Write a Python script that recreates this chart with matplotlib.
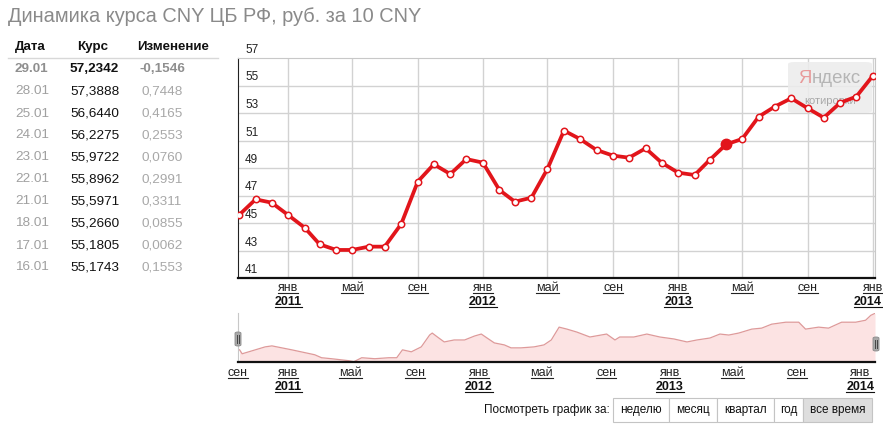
import pandas as pd
import matplotlib
matplotlib.use('Agg')
import matplotlib.pyplot as plt
import matplotlib.dates as mdates
import matplotlib.transforms as mtransforms
from matplotlib.patches import Rectangle, FancyBboxPatch
from matplotlib.lines import Line2D

plt.rcParams['font.family'] = ['Liberation Sans', 'DejaVu Sans']

W, H = 883, 430

title = 'Динамика курса CNY ЦБ РФ, руб. за 10 CNY'
table_head = ['Дата', 'Курс', 'Изменение']
table_dates = ['29.01', '28.01', '25.01', '24.01', '23.01',
               '22.01', '21.01', '18.01', '17.01', '16.01']
table_rates = ['57,2342', '57,3888', '56,6440', '56,2275', '55,9722',
               '55,8962', '55,5971', '55,2660', '55,1805', '55,1743']
table_changes = ['-0,1546', '0,7448', '0,4165', '0,2553', '0,0760',
                 '0,2991', '0,3311', '0,0855', '0,0062', '0,1553']

# monthly points, Oct 2010 .. Jan 2014
months = pd.date_range('2010-10-01', '2014-01-01', freq='MS')
monthly_rate = [45.58, 46.72, 46.48, 45.58, 44.66, 43.45, 43.04, 43.04, 43.28, 43.28,
                44.93, 48.01, 49.27, 48.56, 49.65, 49.39, 47.40, 46.55, 46.84, 48.93,
                51.72, 51.11, 50.31, 49.90, 49.75, 50.43, 49.39, 48.66, 48.49, 49.58,
                50.72, 51.11, 52.73, 53.46, 54.07, 53.34, 52.66, 53.75, 54.19, 55.71]
highlight = pd.Timestamp('2013-04-01')

# overview (navigator) trace
overview_dates = pd.to_datetime([
    '2010-09-30', '2010-10-05', '2010-11-18', '2010-12-01', '2011-01-08', '2011-02-21',
    '2011-03-06', '2011-03-25', '2011-04-27', '2011-05-07', '2011-05-22', '2011-06-16',
    '2011-07-13', '2011-07-28', '2011-08-08', '2011-08-25', '2011-09-13', '2011-09-29',
    '2011-10-04', '2011-10-14', '2011-10-27', '2011-11-15', '2011-12-05', '2011-12-24',
    '2012-01-06', '2012-01-17', '2012-01-31', '2012-02-19', '2012-03-03', '2012-03-22',
    '2012-04-16', '2012-05-05', '2012-05-19', '2012-06-03', '2012-06-18', '2012-07-07',
    '2012-08-01', '2012-09-02', '2012-09-18', '2012-09-27', '2012-10-24', '2012-11-18',
    '2012-12-13', '2013-01-09', '2013-02-03', '2013-02-22', '2013-03-19', '2013-04-07',
    '2013-04-24', '2013-05-13', '2013-06-07', '2013-06-26', '2013-07-15', '2013-08-11',
    '2013-09-05', '2013-09-18', '2013-10-13', '2013-11-01', '2013-11-26', '2013-12-23',
    '2014-01-11', '2014-01-21', '2014-01-29'])
overview_rate = [46.6, 45.4, 47.5, 47.8, 46.6, 45.1, 44.2, 43.9, 43.3, 43.0, 44.2, 43.9,
                 44.2, 44.2, 46.6, 46.0, 47.5, 51.1, 51.7, 50.5, 49.0, 49.6, 49.6, 50.8,
                 51.4, 50.2, 48.7, 48.1, 47.2, 47.2, 47.5, 48.1, 49.6, 53.5, 52.9, 52.0,
                 50.5, 51.4, 49.6, 50.5, 50.5, 51.4, 50.5, 49.9, 49.0, 49.6, 50.2, 51.4,
                 51.1, 51.7, 52.9, 53.2, 54.4, 55.0, 55.0, 52.9, 53.5, 53.2, 55.0, 55.0,
                 55.6, 57.1, 57.7]

month_names = {1: 'янв', 5: 'май', 9: 'сен'}
main_ticks = pd.date_range('2011-01-01', '2014-01-01', freq='4MS')
over_ticks = pd.date_range('2010-09-01', '2014-01-01', freq='4MS')
periods = ['неделю', 'месяц', 'квартал', 'год', 'все время']

RED = '#e2151b'
GRID = '#d2d2d2'


def fx(x):
    return x / W


def fy(y):
    return 1 - y / H


fig = plt.figure(figsize=(W / 100, H / 100), dpi=100)
underlined = []

# title and table
fig.text(fx(8), fy(17), title, fontsize=14.4, color='#8a8a8a', va='center')
for name, x in zip(table_head, [15, 77, 137]):
    fig.text(fx(x), fy(47), name, fontsize=9.6, fontweight='bold', color='#111', va='center')
fig.add_artist(Line2D([fx(8), fx(218)], [fy(58), fy(58)], color='#d8d8d8', lw=1))
for i, (d, r, c) in enumerate(zip(table_dates, table_rates, table_changes)):
    y = fy(69.5 + i * 22)
    w = 'bold' if i == 0 else 'normal'
    fig.text(fx(15), y, d, fontsize=9.7, fontweight=w, color='#8f8f8f' if i == 0 else '#a0a0a0', va='center')
    fig.text(fx(70), y, r, fontsize=9.7, fontweight=w, color='#111', va='center')
    fig.text(fx(162), y, c, fontsize=9.7, fontweight=w, color='#8f8f8f' if i == 0 else '#a8a8a8',
             va='center', ha='center')

# main chart
ax = fig.add_axes([fx(238), fy(278), 637 / W, 220 / H])
ax.plot(months, monthly_rate, color=RED, lw=2.7, marker='o', ms=4.6, mfc='white',
        mec=RED, mew=1.1, solid_joinstyle='round', zorder=4)
ax.plot([highlight], [monthly_rate[list(months).index(highlight)]], 'o', ms=7.5, color=RED, zorder=5)
ax.set_xlim(pd.Timestamp('2010-09-29'), pd.Timestamp('2014-01-05'))
ax.set_ylim(41, 57)
ax.set_yticks(range(43, 57, 2))
ax.set_xticks(main_ticks)
ax.grid(color=GRID, lw=1)
ax.tick_params(length=0, labelbottom=False, labelleft=False)
for s in ['top', 'right']:
    ax.spines[s].set_color('#c8c8c8')
ax.spines['left'].set_color('#222')
ax.spines['bottom'].set_color('#111')
ax.spines['bottom'].set_linewidth(1.6)

ylab = mtransforms.blended_transform_factory(ax.transAxes, ax.transData)
for v in range(41, 58, 2):
    ax.annotate(str(v), xy=(0, v), xycoords=ylab, xytext=(7, 5), textcoords='offset pixels',
                fontsize=8.5, color='#222', va='baseline', annotation_clip=False)

xlab = mtransforms.blended_transform_factory(ax.transData, ax.transAxes)
last = main_ticks[-1]
for d in main_ticks:
    xd = mdates.date2num(d)
    t = ax.annotate(month_names[d.month], xy=(xd, 0), xycoords=xlab, xytext=(0, -10),
                    textcoords='offset pixels', ha='center', va='center', fontsize=9, color='#222',
                    annotation_clip=False)
    underlined.append(t)
    if d.month == 1:
        # the last year label would run off the figure edge, so pin it to the right
        shift, ha = (9, 'right') if d == last else (0, 'center')
        t = ax.annotate(str(d.year), xy=(xd, 0), xycoords=xlab, xytext=(shift, -24),
                        textcoords='offset pixels', ha=ha, va='center', fontsize=9,
                        fontweight='bold', color='#111', annotation_clip=False)
        underlined.append(t)

# watermark
x0, x1 = (788 - 238) / 637, (872 - 238) / 637
y0, y1 = (278 - 113) / 220, (278 - 62) / 220
ax.add_patch(FancyBboxPatch((x0, y0), x1 - x0, y1 - y0, boxstyle='round,pad=0,rounding_size=0.01',
                            transform=ax.transAxes, fc='#ececec', ec='none', alpha=0.85, zorder=2))
ya = ax.text((798 - 238) / 637, (278 - 79) / 220, 'Я', transform=ax.transAxes, fontsize=13.4,
             color='#e89a9a', va='center', zorder=3)
ax.annotate('ндекс', xy=(1, 0), xycoords=ya, va='bottom', ha='left', fontsize=13.4,
            color='#b5b5b5', zorder=3)
ax.text((830 - 238) / 637, (278 - 101) / 220, 'котировки', transform=ax.transAxes, fontsize=8,
        color='#a8a8a8', ha='center', va='center', zorder=3)

# overview chart
ox = fig.add_axes([fx(238), fy(362), 637 / W, 49 / H])
ox.fill_between(overview_dates, overview_rate, 42.9, color='#fce3e3', lw=0)
ox.plot(overview_dates, overview_rate, color='#de9a9a', lw=0.9)
ox.set_xlim(pd.Timestamp('2010-09-27'), pd.Timestamp('2014-01-29'))
ox.set_ylim(42.9, 57.8)
ox.set_xticks([])
ox.set_yticks([])
for s in ['top', 'right']:
    ox.spines[s].set_visible(False)
ox.spines['left'].set_color('#c8c8c8')
ox.spines['left'].set_linewidth(0.8)
ox.spines['bottom'].set_color('#111')
ox.spines['bottom'].set_linewidth(1.6)
ox.patch.set_alpha(0)

oxlab = mtransforms.blended_transform_factory(ox.transData, ox.transAxes)
left = ox.get_xlim()[0]
for d in over_ticks:
    xd = max(mdates.date2num(d), left)
    t = ox.annotate(month_names[d.month], xy=(xd, 0), xycoords=oxlab, xytext=(0, -11),
                    textcoords='offset pixels', ha='center', va='center', fontsize=9, color='#222',
                    annotation_clip=False)
    underlined.append(t)
    if d.month == 1:
        t = ox.annotate(str(d.year), xy=(xd, 0), xycoords=oxlab, xytext=(0, -25),
                        textcoords='offset pixels', ha='center', va='center', fontsize=9,
                        fontweight='bold', color='#111', annotation_clip=False)
        underlined.append(t)

# navigator handles
for hx, hy in [(235, 332), (873, 337)]:
    fig.add_artist(FancyBboxPatch((fx(hx), fy(hy + 14)), fx(6), 14 / H,
                                  boxstyle='round,pad=0,rounding_size=0.003',
                                  fc='#a9a9a9', ec='#8a8a8a', lw=0.6))
    for dx in (2.2, 3.8):
        fig.add_artist(Line2D([fx(hx + dx), fx(hx + dx)], [fy(hy + 3), fy(hy + 11)],
                              color='#444', lw=0.7))

# period buttons
fig.text(fx(610), fy(410), 'Посмотреть график за:', fontsize=8.5, color='#111',
         ha='right', va='center')
edges = [613, 669, 717, 774, 803, 872]
for i, p in enumerate(periods):
    a, b = edges[i], edges[i + 1]
    fig.add_artist(Rectangle((fx(a), fy(422)), fx(b - a), 24 / H,
                             fc='#dedede' if i == len(periods) - 1 else 'white',
                             ec='#c4c4c4', lw=0.8))
    fig.text(fx((a + b) / 2), fy(410), p, fontsize=8.5, color='#111', ha='center', va='center')

# underline the link-style labels
fig.canvas.draw()
rend = fig.canvas.get_renderer()
inv = fig.transFigure.inverted()
for t in underlined:
    bb = t.get_window_extent(rend)
    (a, b), (c, _) = inv.transform([(bb.x0, bb.y0 + 1.5), (bb.x1, bb.y0)])
    fig.add_artist(Line2D([a, c], [b, b], color=t.get_color(), lw=0.8))

fig.savefig('out.png', dpi=100)
